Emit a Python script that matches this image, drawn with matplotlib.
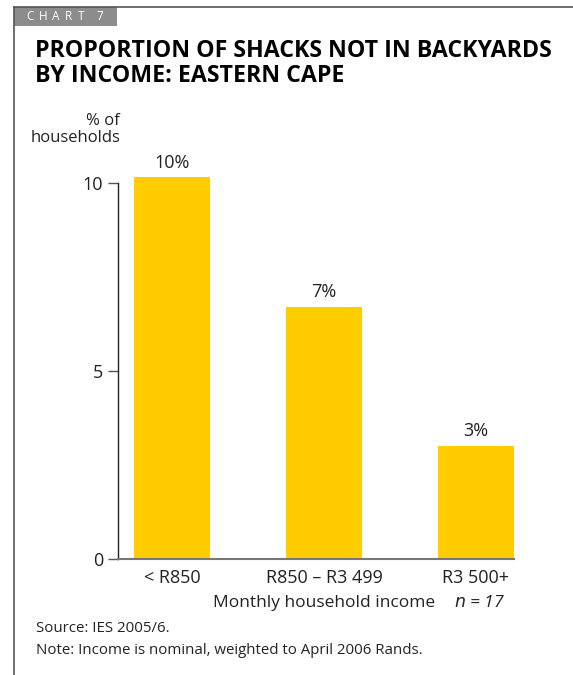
import matplotlib.pyplot as plt
from matplotlib.patches import Rectangle
from matplotlib.lines import Line2D

# ==== DATOS ====
categorias = ['< R850', 'R850 – R3 499', 'R3 500+']
valores = [10.15, 6.7, 3.0]
etiquetas = ['10%', '7%', '3%']
ticks_y = [0, 5, 10]

AMARILLO = '#FFCC00'
GRIS = '#8C8C8C'
TEXTO = '#222222'
FUENTE = ['Open Sans', 'DejaVu Sans']

plt.rcParams['font.family'] = FUENTE

fig = plt.figure(figsize=(5.73, 6.75), dpi=100)
W, H = 573, 675


def fx(px):
    return px / W


def fy(py):
    return 1 - py / H


# Marco: linea superior e izquierda
fig.add_artist(Line2D([fx(14), fx(573)], [fy(7), fy(7)], color='#555555', lw=1.2))
fig.add_artist(Line2D([fx(14), fx(14)], [fy(7), fy(675)], color='#555555', lw=1.2))

# Caja "CHART 7" (letras espaciadas)
fig.add_artist(Rectangle((fx(14), fy(26)), fx(117) - fx(14), fy(7) - fy(26),
                         color=GRIS, lw=0))
for letra, px in zip('CHART7', [26, 39, 52, 65, 78, 96]):
    fig.text(fx(px), fy(17), letra, color='white', fontsize=8.5, va='center', ha='left')

# Titulo
fig.text(fx(35), fy(39), 'PROPORTION OF SHACKS NOT IN BACKYARDS\nBY INCOME: EASTERN CAPE',
         fontsize=16.7, fontweight='bold', va='top', ha='left', linespacing=1.08)

# Etiqueta del eje y
fig.text(fx(120), fy(113), '% of\nhouseholds', fontsize=12, ha='right', va='top',
         multialignment='right', linespacing=1.05, color=TEXTO)

# ==== EJES ====
y0, escala = 559, 37.6
ax = fig.add_axes([fx(118), fy(y0), (2.25 + 0.355) * 152 / W, 10.6 * escala / H])
x = range(len(categorias))
ax.bar(x, valores, width=0.5, color=AMARILLO)
ax.set_xlim(-0.355, 2.25)
ax.set_ylim(0, 10.6)

for xi, v, t in zip(x, valores, etiquetas):
    ax.text(xi, v + 0.26, t, ha='center', va='baseline', fontsize=13, color=TEXTO)

ax.set_yticks(ticks_y)
ax.set_yticklabels([str(t) for t in ticks_y], fontsize=13, color=TEXTO)
ax.set_xticks(list(x))
ax.set_xticklabels(categorias, fontsize=13, color=TEXTO)
ax.tick_params(axis='x', length=0, pad=7)
ax.tick_params(axis='y', length=7.2, width=1, color='#555555', pad=3.6)

for s in ['top', 'right']:
    ax.spines[s].set_visible(False)
ax.spines['left'].set_bounds(0, 10)
ax.spines['left'].set_color(TEXTO)
ax.spines['left'].set_linewidth(1)
ax.spines['bottom'].set_color('#777777')
ax.spines['bottom'].set_linewidth(1.5)

fig.text(fx(324), fy(603), 'Monthly household income', fontsize=12.5, ha='center',
         va='center', color=TEXTO)
fig.text(fx(480), fy(603), '$n$ = 17', fontsize=12.5, ha='center', va='center',
         color=TEXTO, style='italic')

# Notas
fig.text(fx(36), fy(629), 'Source: IES 2005/6.', fontsize=10.8, va='center', color=TEXTO)
fig.text(fx(36), fy(650), 'Note: Income is nominal, weighted to April 2006 Rands.',
         fontsize=10.8, va='center', color=TEXTO)

fig.savefig('out.png', dpi=100)
